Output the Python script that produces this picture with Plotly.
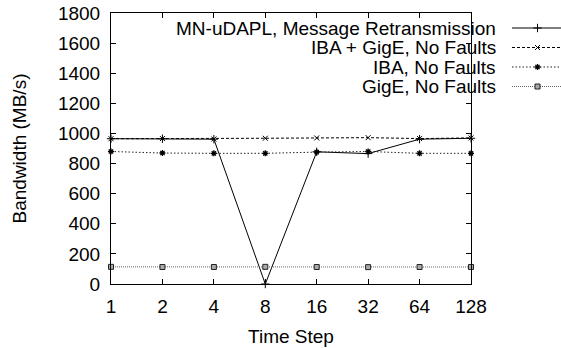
import plotly.graph_objects as go

time_steps = [1, 2, 4, 8, 16, 32, 64, 128]
tick_labels = ["1", "2", "4", "8", "16", "32", "64", "128"]
mn_udapl = [965, 965, 962, 0, 878, 866, 962, 968]
iba_gige = [965, 966, 963, 968, 970, 972, 966, 970]
iba = [880, 870, 868, 868, 876, 880, 868, 868]
gige = [114, 113, 113, 114, 113, 112, 113, 113]

series_names = ["MN-uDAPL, Message Retransmission", "IBA + GigE, No Faults",
                "IBA, No Faults", "GigE, No Faults"]

FONT = "Liberation Sans, Arial, Helvetica, sans-serif"
FS = 19

W, H = 561, 348
ML, MT, MB, MR = 111, 13, 64, 0
plot_right = 471

styles = [
    dict(line=dict(color="#000", width=1), marker=dict(symbol="cross-thin", size=6, line=dict(color="#000", width=1))),
    dict(line=dict(color="#000", width=1, dash="3px,2px"), marker=dict(symbol="x-thin", size=5, line=dict(color="#000", width=1))),
    dict(line=dict(color="#222", width=1, dash="1.5px,2px"), marker=dict(symbol="asterisk", size=5, line=dict(color="#000", width=1.3))),
    dict(line=dict(color="#666", width=1, dash="1px,1px"), marker=dict(symbol="square", size=5, color="#aaa", line=dict(color="#222", width=1))),
]

data = [mn_udapl, iba_gige, iba, gige]

fig = go.Figure()
for name, ys, st in zip(series_names, data, styles):
    fig.add_trace(go.Scatter(x=time_steps, y=ys, mode="lines+markers", name=name,
                             line=st["line"], marker=st["marker"], cliponaxis=False,
                             xaxis="x", yaxis="y", showlegend=False))

# legend in pixel-coordinate overlay
total_w = W - ML - MR
legend_rows = [28, 47.5, 67, 86.5]
for name, row, st in zip(series_names, legend_rows, styles):
    fig.add_trace(go.Scatter(x=[512, 561], y=[row, row], mode="lines", line=st["line"],
                             xaxis="x2", yaxis="y2", showlegend=False, hoverinfo="skip"))
    fig.add_trace(go.Scatter(x=[537.5], y=[row], mode="markers", marker=st["marker"],
                             xaxis="x2", yaxis="y2", showlegend=False, hoverinfo="skip", cliponaxis=False))
    fig.add_annotation(x=497, y=row, xref="x2", yref="y2", text=name, showarrow=False,
                       xanchor="right", yanchor="middle", borderpad=0,
                       font=dict(family=FONT, size=FS, color="#000"))

axis_common = dict(showline=True, linecolor="#000", linewidth=1, mirror="allticks",
                   ticks="inside", ticklen=5, tickcolor="#000", showgrid=False, zeroline=False,
                   automargin=False, tickfont=dict(family=FONT, size=FS, color="#000"))

fig.update_layout(
    template="none",
    width=W, height=H,
    margin=dict(l=ML, r=MR, t=MT, b=MB, pad=0, autoexpand=False),
    paper_bgcolor="white", plot_bgcolor="rgba(0,0,0,0)",
    showlegend=False,
    xaxis=dict(type="log", domain=[0, (plot_right - ML) / total_w], range=[0, 2.10721],
               tickvals=time_steps, ticktext=tick_labels, anchor="y",
               title=dict(text="Time Step", font=dict(family=FONT, size=FS, color="#000"), standoff=13),
               ticklabelstandoff=5, **axis_common),
    yaxis=dict(range=[0, 1800], dtick=200, anchor="x",
               title=dict(text="Bandwidth (MB/s)", font=dict(family=FONT, size=FS, color="#000"), standoff=26),
               ticklabelstandoff=6, **axis_common),
    xaxis2=dict(domain=[0, 1], range=[ML, W - MR], visible=False, anchor="y2", fixedrange=True, automargin=False),
    yaxis2=dict(domain=[0, 1], range=[H - MB, MT], visible=False, anchor="x2", fixedrange=True, automargin=False),
)

fig.write_html("out.html")
